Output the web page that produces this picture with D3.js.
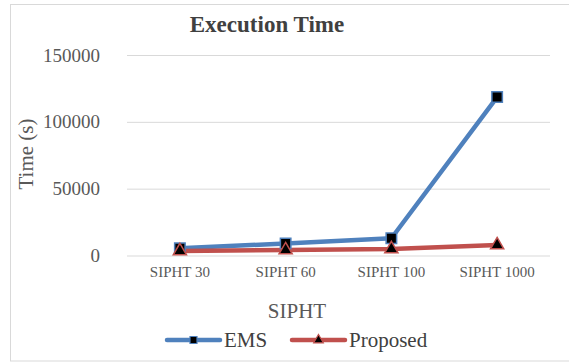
<!DOCTYPE html>
<html>
<head>
<meta charset="utf-8">
<script src="https://cdn.jsdelivr.net/npm/d3@7"></script>
<style>
  html, body { margin: 0; padding: 0; background: #fff; }
  svg { display: block; }
  svg text { font-family: "Liberation Serif", "Times New Roman", serif; }
</style>
</head>
<body>
<svg id="chart" width="569" height="363"></svg>
<script>
const categories = ["SIPHT 30", "SIPHT 60", "SIPHT 100", "SIPHT 1000"];
const emsValues = [5400, 9000, 12900, 118500];
const proposedValues = [3400, 4100, 4900, 7800];
const yTicks = [0, 50000, 100000, 150000];
const seriesNames = ["EMS", "Proposed"];
const seriesColors = ["#4f81bd", "#c0504d"];

const SERIF = "Liberation Serif, Times New Roman, serif";
const svg = d3.select("#chart");

// chart frame
svg.append("rect")
  .attr("x", 10.5).attr("y", 4.5)
  .attr("width", 570).attr("height", 356.5)
  .attr("fill", "#fff").attr("stroke", "#d9d9d9");

const plot = { left: 127, right: 550, top: 55, bottom: 255.5 };

const x = d3.scaleBand().domain(categories).range([plot.left, plot.right]);
const y = d3.scaleLinear().domain([0, 150000]).range([plot.bottom, plot.top]);

// title
svg.append("text")
  .attr("x", 267).attr("y", 32)
  .attr("text-anchor", "middle")
  .attr("font-family", SERIF)
  .attr("font-size", 23).attr("font-weight", "bold")
  .attr("fill", "#404040")
  .text("Execution Time");

// gridlines + y labels
const yAxis = d3.axisLeft(y).tickValues(yTicks).tickSize(-(plot.right - plot.left)).tickPadding(27).tickFormat(d3.format("d"));
const gy = svg.append("g").attr("transform", `translate(${plot.left},0)`).call(yAxis);
gy.attr("font-family", SERIF);
gy.select(".domain").remove();
gy.selectAll(".tick line").attr("stroke", "#d9d9d9");
gy.selectAll(".tick text").attr("font-size", 19).attr("fill", "#595959");

// x labels
const xAxis = d3.axisBottom(x).tickSize(0).tickPadding(11);
const gx = svg.append("g").attr("transform", `translate(0,${plot.bottom})`).call(xAxis);
gx.attr("font-family", SERIF);
gx.select(".domain").remove();
gx.selectAll(".tick text").attr("font-size", 15).attr("fill", "#595959");

// axis titles
svg.append("text")
  .attr("transform", "translate(33,154) rotate(-90)")
  .attr("text-anchor", "middle")
  .attr("font-family", SERIF)
  .attr("font-size", 21).attr("fill", "#595959")
  .text("Time (s)");
svg.append("text")
  .attr("x", 297).attr("y", 318)
  .attr("text-anchor", "middle")
  .attr("font-family", SERIF)
  .attr("font-size", 21).attr("fill", "#595959")
  .text("SIPHT");

// series
const series = [emsValues, proposedValues];
const line = d3.line()
  .x((d, i) => x(categories[i]) + x.bandwidth() / 2)
  .y(d => y(d));

series.forEach((vals, s) => {
  svg.append("path")
    .datum(vals)
    .attr("d", line)
    .attr("fill", "none")
    .attr("stroke", seriesColors[s])
    .attr("stroke-width", 4.5)
    .attr("stroke-linejoin", "round");
});

const squareSym = d3.symbol().type(d3.symbolSquare).size(110);
const triSym = d3.symbol().type(d3.symbolTriangle).size(75);

svg.append("g").selectAll("path")
  .data(emsValues)
  .join("path")
  .attr("transform", (d, i) => `translate(${x(categories[i]) + x.bandwidth() / 2},${y(d)})`)
  .attr("d", squareSym)
  .attr("fill", "#000")
  .attr("stroke", seriesColors[0]).attr("stroke-width", 1.5);

svg.append("g").selectAll("path")
  .data(proposedValues)
  .join("path")
  .attr("transform", (d, i) => `translate(${x(categories[i]) + x.bandwidth() / 2},${y(d)})`)
  .attr("d", triSym)
  .attr("fill", "#000")
  .attr("stroke", seriesColors[1]).attr("stroke-width", 1.5);

// legend
const legendItems = [
  { name: seriesNames[0], color: seriesColors[0], x0: 167, sym: d3.symbol().type(d3.symbolSquare).size(49) },
  { name: seriesNames[1], color: seriesColors[1], x0: 292, sym: d3.symbol().type(d3.symbolTriangle).size(40) }
];
const ly = 340;
legendItems.forEach(it => {
  const g = svg.append("g");
  g.append("line")
    .attr("x1", it.x0).attr("x2", it.x0 + 53)
    .attr("y1", ly).attr("y2", ly)
    .attr("stroke", it.color).attr("stroke-width", 4.5)
    .attr("stroke-linecap", "round");
  g.append("path")
    .attr("transform", `translate(${it.x0 + 26.5},${ly})`)
    .attr("d", it.sym())
    .attr("fill", "#000")
    .attr("stroke", it.color).attr("stroke-width", 1.2);
  g.append("text")
    .attr("x", it.x0 + 57).attr("y", ly + 7)
    .attr("font-family", SERIF)
    .attr("font-size", 21).attr("fill", "#404040")
    .text(it.name);
});
</script>
</body>
</html>
